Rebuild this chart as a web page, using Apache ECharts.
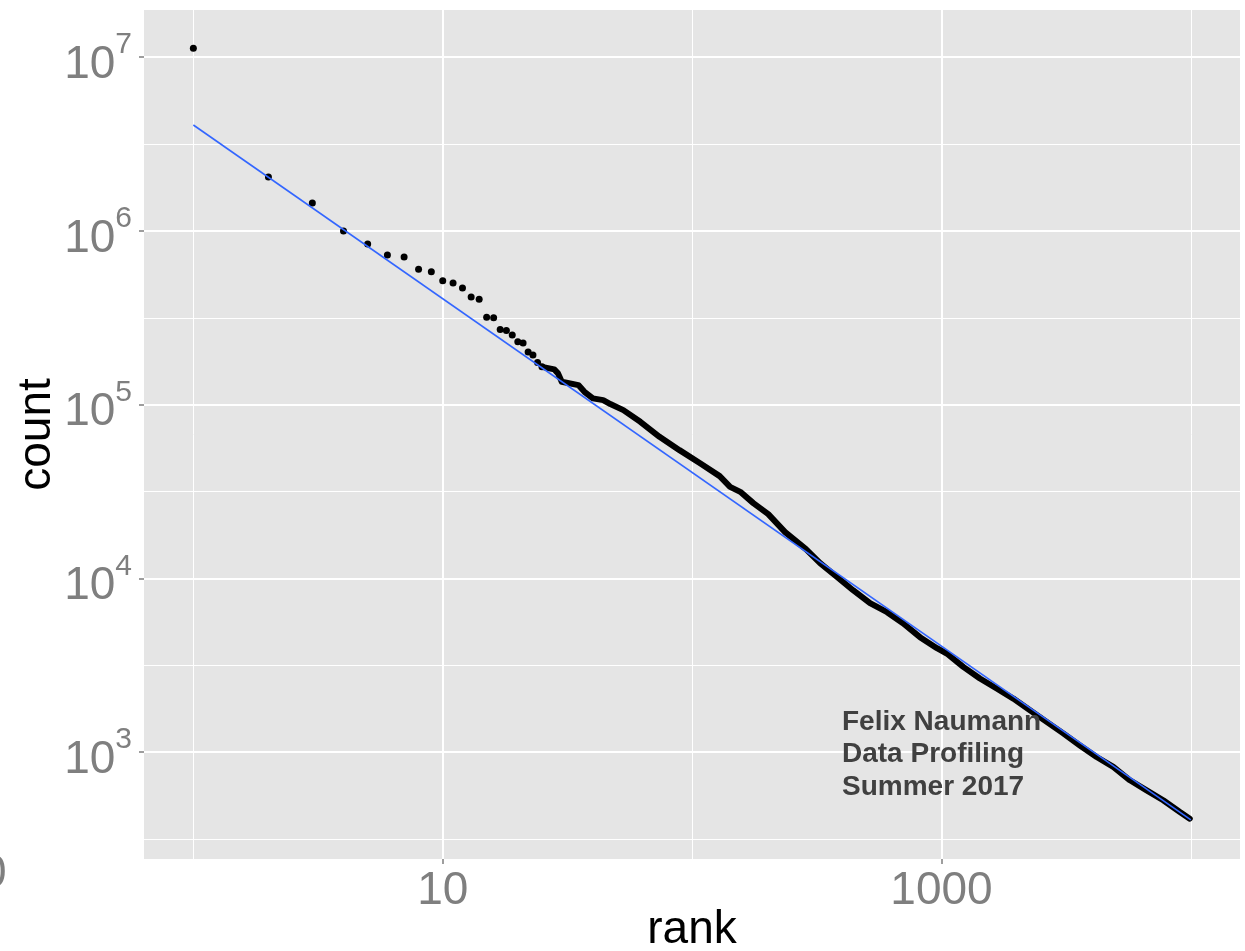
<!DOCTYPE html>
<html>
<head>
<meta charset="utf-8">
<script src="https://cdn.jsdelivr.net/npm/echarts@6/dist/echarts.min.js"></script>
<style>
html, body { margin: 0; padding: 0; background: #ffffff; }
#chart { width: 1245px; height: 951px; }
</style>
</head>
<body>
<div id="chart"></div>
<script>
// ---- data ----
// individually visible points (rank, count)
const sparseRanks  = [1, 2, 3, 4, 5, 6, 7, 8, 9, 10, 11, 12, 13, 14, 15, 16, 17, 18, 19, 20, 21, 22, 23, 24, 25];
const sparseCounts = [11270000, 2042000, 1449000, 998000, 841000, 726000, 708000, 601000, 582000, 516000,
                      501000, 469000, 416000, 404000, 318000, 316000, 271000, 267000, 252000, 230000,
                      226000, 201000, 193000, 175000, 165000];
// dense part of the rank/count curve (points merge into a thick band)
const denseRanks  = [25, 28, 29, 30, 35, 37, 40, 44, 47, 53, 62, 74, 89, 108, 129, 142, 156, 176, 202, 236,
                     286, 326, 378, 442, 517, 605, 701, 820, 959, 1050, 1223, 1426, 1664, 1941, 2264, 2641,
                     3078, 3591, 4189, 4886, 5699, 6648, 7747, 9036, 9900];
const denseCounts = [165000, 159500, 151200, 135300, 129500, 118500, 108600, 106100, 100700, 92960, 79600,
                     65250, 54680, 45840, 38740, 33620, 31460, 27080, 23400, 18430, 14710, 12220, 10280,
                     8540, 7185, 6377, 5512, 4580, 3958, 3690, 3090, 2650, 2320, 2030, 1740, 1490,
                     1280, 1090, 935, 820, 687, 601, 527, 451, 413];
// fitted power-law line endpoints
const fitRanks  = [1, 10000];
const fitCounts = [4070000, 407];
// axis breaks and limits
const xMajorBreaks = [10, 1000];
const xMinorBreaks = [1, 100, 10000];
const yMajorBreaks = [1e3, 1e4, 1e5, 1e6, 1e7];
const yMinorBreaks = [316.2, 3162.3, 31623, 316228, 3162278];
const xLimits = [0.634, 15740];
const yLimits = [242, 18700000];
const annotationText = 'Felix Naumann\nData Profiling\nSummer 2017';

const FONT = '"Liberation Sans", Arial, Helvetica, sans-serif';
const GREY = '#7F7F7F';

const chart = echarts.init(document.getElementById('chart'), null, { renderer: 'canvas' });

const sparse = sparseRanks.map((r, i) => [r, sparseCounts[i]]);
const dense = denseRanks.map((r, i) => [r, denseCounts[i]]);
const fit = fitRanks.map((r, i) => [r, fitCounts[i]]);

const option = {
  animation: false,
  backgroundColor: '#ffffff',
  grid: {
    left: 144, right: 5, top: 10, bottom: 92,
    containLabel: false, outerBoundsMode: 'none',
    show: true, backgroundColor: '#E5E5E5', borderWidth: 0
  },
  xAxis: [
    {
      type: 'log', logBase: 10, min: xLimits[0], max: xLimits[1],
      position: 'bottom',
      axisLine: { show: false },
      axisTick: { show: true, length: 5, customValues: xMajorBreaks, lineStyle: { color: GREY, width: 1.5 } },
      axisLabel: {
        customValues: xMajorBreaks, margin: 9, fontSize: 46, color: GREY, fontFamily: FONT,
        formatter: v => String(Math.round(v))
      },
      splitLine: { show: true, lineStyle: { color: '#ffffff', width: 2 } },
      minorTick: { show: false }, minorSplitLine: { show: false },
      name: 'rank', nameLocation: 'middle', nameGap: 48, nameMoveOverlap: false,
      nameTextStyle: { fontSize: 46, color: '#000000', fontFamily: FONT }
    },
    {
      type: 'log', logBase: 10, min: xLimits[0], max: xLimits[1],
      position: 'bottom',
      axisLine: { show: false },
      axisTick: { show: false, customValues: xMinorBreaks },
      axisLabel: { show: false, customValues: xMinorBreaks },
      splitLine: { show: true, lineStyle: { color: '#ffffff', width: 1 } }
    }
  ],
  yAxis: [
    {
      type: 'log', logBase: 10, min: yLimits[0], max: yLimits[1],
      position: 'left',
      axisLine: { show: false },
      axisTick: { show: true, length: 5, customValues: yMajorBreaks, lineStyle: { color: GREY, width: 1.5 } },
      axisLabel: {
        customValues: yMajorBreaks, margin: 12,
        formatter: v => '{b|10}{s|' + Math.round(Math.log10(v)) + '}',
        rich: {
          b: { fontSize: 46, color: GREY, fontFamily: FONT, padding: [16, 0, 0, 0] },
          s: { fontSize: 30, color: GREY, fontFamily: FONT, padding: [0, 0, 24, 0] }
        }
      },
      splitLine: { show: true, lineStyle: { color: '#ffffff', width: 2 } },
      minorTick: { show: false }, minorSplitLine: { show: false },
      name: 'count', nameLocation: 'middle', nameGap: 84, nameRotate: 90, nameMoveOverlap: false,
      nameTextStyle: { fontSize: 46, color: '#000000', fontFamily: FONT }
    },
    {
      type: 'log', logBase: 10, min: yLimits[0], max: yLimits[1],
      position: 'left',
      axisLine: { show: false },
      axisTick: { show: false, customValues: yMinorBreaks },
      axisLabel: { show: false, customValues: yMinorBreaks },
      splitLine: { show: true, lineStyle: { color: '#ffffff', width: 1 } }
    }
  ],
  series: [
    {
      type: 'scatter', xAxisIndex: 0, yAxisIndex: 0,
      data: sparse, symbol: 'circle', symbolSize: 7,
      itemStyle: { color: '#000000', opacity: 1 }, z: 3
    },
    {
      type: 'line', xAxisIndex: 0, yAxisIndex: 0,
      data: dense, showSymbol: false, symbol: 'none',
      lineStyle: { color: '#000000', width: 6, cap: 'round', join: 'round' }, z: 3
    },
    {
      type: 'line', xAxisIndex: 0, yAxisIndex: 0,
      data: fit, showSymbol: false, symbol: 'none',
      lineStyle: { color: '#3366FF', width: 1.6 }, z: 4
    }
  ],
  graphic: [
    {
      type: 'text', left: 842, top: 706, z: 10,
      style: { text: annotationText, font: 'bold 28px ' + FONT, fill: '#404040', lineHeight: 32.5 }
    },
    {
      type: 'text', left: -19, top: 851, z: 10,
      style: { text: '0', font: '46px ' + FONT, fill: GREY }
    }
  ]
};
chart.setOption(option);
</script>
</body>
</html>
